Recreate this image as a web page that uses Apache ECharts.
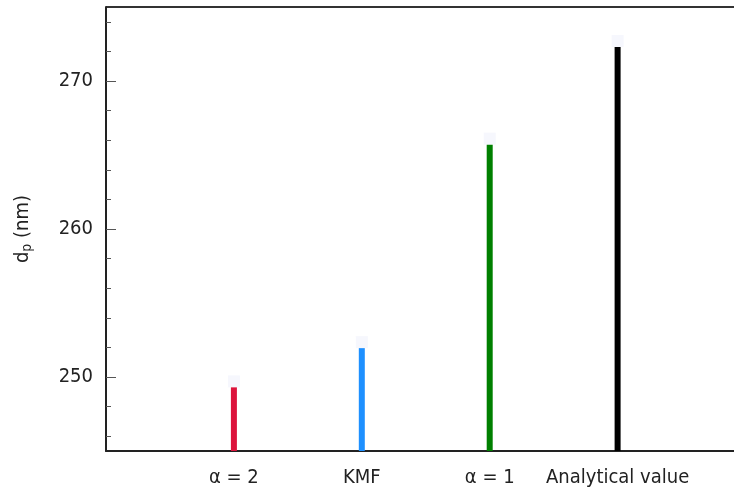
<!DOCTYPE html>
<html><head><meta charset="utf-8">
<script src="https://cdn.jsdelivr.net/npm/echarts@6/dist/echarts.min.js"></script>
<style>html,body{margin:0;padding:0;background:#fff}#c{width:734px;height:490px}</style>
</head><body><div id="c"></div>
<script>
const categories = ['α = 2', 'KMF', 'α = 1', 'Analytical value'];
const positions = [1, 2, 3, 4];
const values = [249.3, 251.95, 265.7, 272.3];
const colors = ['#dc143c', '#1e90ff', '#008000', '#000000'];
const yMajorTicks = [250, 260, 270];
const yMinorTicks = [246, 248, 252, 254, 256, 258, 262, 264, 266, 268, 272, 274];

const FONT = '"DejaVu Sans Condensed", "DejaVu Sans"';
const chart = echarts.init(document.getElementById('c'), null, {renderer: 'canvas'});
const barData = positions.map((p, i) => ({value: [p, values[i]], itemStyle: {color: colors[i]}}));
const markData = positions.map((p, i) => [p, values[i]]);

chart.setOption({
  animation: false,
  grid: {left: 106, top: 7, right: 0, bottom: 39},
  xAxis: {
    type: 'value', min: 0, max: 4.91, interval: 1,
    axisLine: {lineStyle: {color: '#222', width: 2}},
    axisTick: {show: false},
    splitLine: {show: false},
    axisLabel: {
      fontFamily: FONT, fontSize: 20, color: '#222', margin: 17,
      showMinLabel: false, showMaxLabel: false,
      formatter: v => { const i = positions.indexOf(v); return i >= 0 ? categories[i] : ''; }
    }
  },
  yAxis: [{
    type: 'value', min: 245, max: 275, position: 'left',
    name: '{a|d}{s|p}{a| (nm)}', nameLocation: 'middle', nameGap: 72, nameRotate: 90,
    nameTextStyle: {rich: {
      a: {fontFamily: FONT, fontSize: 20, color: '#222'},
      s: {fontFamily: FONT, fontSize: 14, color: '#222', verticalAlign: 'bottom', padding: [8, 0, 0, 0]}
    }},
    axisLine: {show: true, lineStyle: {color: '#222', width: 2}},
    axisTick: {show: true, inside: true, length: 10, lineStyle: {color: '#555'}, customValues: yMajorTicks},
    axisLabel: {fontFamily: FONT, fontSize: 20, color: '#222', margin: 13, customValues: yMajorTicks},
    splitLine: {show: false}
  }, {
    type: 'value', min: 245, max: 275, position: 'left',
    axisLine: {show: false},
    axisTick: {show: true, inside: true, length: 5, lineStyle: {color: '#555'}, customValues: yMinorTicks},
    axisLabel: {show: false, customValues: yMinorTicks},
    splitLine: {show: false}
  }],
  graphic: [{type: 'line', shape: {x1: 106, y1: 7, x2: 734, y2: 7}, style: {stroke: '#333', lineWidth: 2}}],
  series: [{
    type: 'bar', barWidth: 6, data: barData, yAxisIndex: 0
  }, {
    type: 'scatter', symbol: 'rect', symbolSize: 12, symbolOffset: [0, -6],
    itemStyle: {color: '#f4f5fd'}, data: markData, z: 1
  }]
});
</script></body></html>
